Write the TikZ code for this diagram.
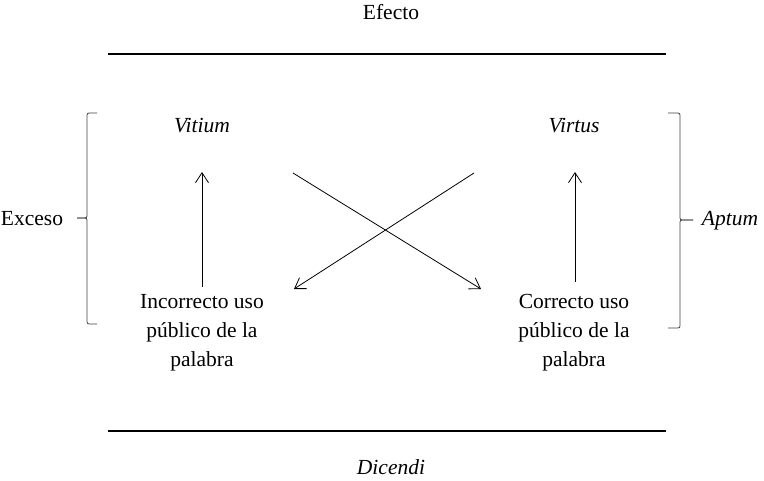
\documentclass[tikz,border=0pt]{standalone}
\usepackage{fontspec}
\setmainfont{Liberation Serif}
\usetikzlibrary{arrows.meta}
\begin{document}
\begin{tikzpicture}[x=1pt,y=-1pt,
  lbl/.style={font=\fontsize{21.5}{29}\selectfont, inner sep=0pt, align=center},
  ital/.style={lbl, font=\fontsize{21.5}{29}\selectfont\itshape},
  arr/.style={line width=0.8pt, -{Straight Barb[length=10pt,width=13pt,line width=0.8pt]}},
  rule/.style={line width=1.3pt},
  brace/.style={line width=0.8pt, draw=black!75, rounded corners=2pt}]
\useasboundingbox (0,0) rectangle (764,481);
% texts
\node[lbl] (efecto) at (391,12) {Efecto};
\node[ital] (dicendi) at (391,467) {Dicendi};
\node[ital] (vitium) at (202,126) {Vitium};
\node[ital] (virtus) at (574,126) {Virtus};
\node[lbl] (incorrecto) at (202,333) {Incorrecto uso\\público de la\\palabra};
\node[lbl] (correcto) at (574,333) {Correcto uso\\público de la\\palabra};
\node[lbl] (exceso) at (32,219) {Exceso};
\node[ital] (aptum) at (730,221) {Aptum};
% rules
\coordinate (t1) at (108,54); \coordinate (t2) at (666,54);
\coordinate (b1) at (108,431); \coordinate (b2) at (666,431);
\draw[rule] (t1) -- (t2);
\draw[rule] (b1) -- (b2);
% vertical arrows
\coordinate (la0) at (202,287); \coordinate (la1) at (202,172);
\coordinate (ra0) at (575,282); \coordinate (ra1) at (575,172);
\draw[arr] (la0) -- (la1);
\draw[arr] (ra0) -- (ra1);
% crossing arrows
\coordinate (c1s) at (293,173); \coordinate (c1e) at (481,289);
\coordinate (c2s) at (474,173); \coordinate (c2e) at (294,289);
\draw[arr] (c1s) -- (c1e);
\draw[arr] (c2s) -- (c2e);
% braces
\coordinate (lb1) at (97,113); \coordinate (lb2) at (87,113);
\coordinate (lb3) at (87,218); \coordinate (lbt) at (77,218);
\coordinate (lb4) at (87,324); \coordinate (lb5) at (97,324);
\draw[brace] (lb1) -- (lb2) -- (lb3) -- (lbt);
\draw[brace] (lbt) -- (lb3) -- (lb4) -- (lb5);
\coordinate (rb1) at (668,113); \coordinate (rb2) at (680,113);
\coordinate (rb3) at (680,220); \coordinate (rbt) at (693,220);
\coordinate (rb4) at (680,328); \coordinate (rb5) at (668,328);
\draw[brace] (rb1) -- (rb2) -- (rb3) -- (rbt);
\draw[brace] (rbt) -- (rb3) -- (rb4) -- (rb5);
\end{tikzpicture}
\end{document}
